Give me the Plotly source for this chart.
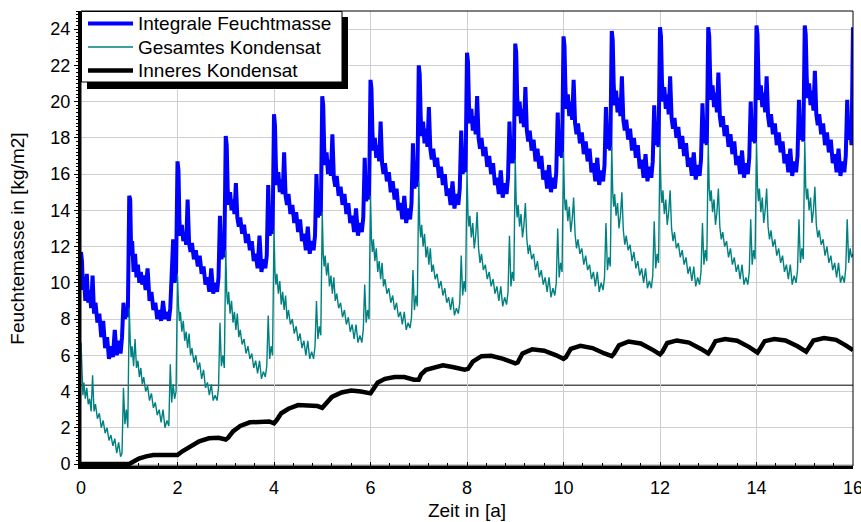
import plotly.graph_objects as go

# ---------------- data ----------------
# sample positions inside each year (fraction of a year)
FRAC = [0.00, 0.02, 0.04, 0.06, 0.09, 0.12, 0.15, 0.18, 0.21, 0.24,
        0.27, 0.30, 0.34, 0.38, 0.42, 0.46, 0.50, 0.54, 0.58, 0.62,
        0.66, 0.70, 0.74, 0.78, 0.82, 0.85, 0.88, 0.91, 0.94, 0.97]

# Integrale Feuchtmasse [kg/m2], one list per year
integrale_j00 = [11.7, 11.2, 9.6, 10.3, 9.0, 10.5, 8.9, 9.6, 8.6, 10.4, 8.3, 8.9, 7.8, 8.3, 7.0, 7.9, 6.4, 7.0, 5.8, 6.5, 5.9, 7.4, 6.0, 6.8, 6.1, 7.0, 8.9, 8.0, 8.6, 8.1]
integrale_j01 = [14.8, 14.6, 11.5, 12.3, 10.6, 11.6, 10.3, 11.0, 10.0, 10.6, 9.9, 10.4, 9.6, 10.8, 9.0, 9.5, 8.5, 8.9, 8.0, 8.5, 7.9, 9.0, 8.0, 8.4, 7.9, 8.6, 10.5, 12.4, 10.0, 10.6]
integrale_j02 = [16.7, 16.2, 13.4, 12.6, 13.2, 12.3, 12.8, 12.1, 14.6, 12.2, 11.7, 12.2, 11.3, 11.8, 10.9, 11.5, 10.5, 10.9, 9.9, 10.3, 9.5, 10.8, 9.4, 10.0, 9.5, 10.3, 13.7, 11.3, 11.9, 11.4]
integrale_j03 = [18.1, 17.6, 15.2, 14.3, 15.0, 14.0, 14.6, 13.8, 15.5, 13.6, 13.1, 13.6, 12.7, 13.2, 12.2, 12.7, 11.8, 12.3, 11.2, 11.6, 10.8, 12.6, 10.6, 11.3, 10.8, 11.5, 15.4, 12.6, 13.3, 12.7]
integrale_j04 = [19.3, 18.7, 16.4, 15.4, 16.1, 15.0, 15.7, 14.9, 17.2, 14.8, 14.3, 14.9, 13.8, 14.3, 13.3, 13.9, 12.8, 13.5, 12.3, 12.7, 11.8, 13.1, 11.6, 12.3, 11.8, 12.6, 16.0, 13.6, 14.4, 13.7]
integrale_j05 = [20.3, 19.8, 17.4, 16.5, 17.2, 16.0, 16.8, 15.9, 18.2, 15.8, 15.3, 15.9, 14.8, 15.3, 14.3, 14.9, 13.8, 14.4, 13.3, 13.7, 12.8, 14.1, 12.6, 13.3, 12.8, 13.6, 16.9, 14.5, 15.3, 14.6]
integrale_j06 = [21.2, 20.7, 18.3, 17.3, 18.0, 16.9, 17.6, 16.7, 18.9, 16.6, 16.0, 16.6, 15.6, 16.1, 15.0, 15.6, 14.6, 15.2, 14.0, 14.4, 13.5, 14.8, 13.3, 14.1, 13.5, 14.4, 17.7, 15.2, 16.0, 15.3]
integrale_j07 = [22.0, 21.5, 19.2, 18.1, 18.9, 17.7, 18.5, 17.5, 19.7, 17.4, 16.8, 17.4, 16.4, 16.9, 15.8, 16.4, 15.4, 16.0, 14.8, 15.2, 14.3, 15.6, 14.1, 14.9, 14.3, 15.2, 18.4, 16.0, 16.8, 16.1]
integrale_j08 = [22.7, 22.2, 19.9, 18.8, 19.6, 18.4, 19.2, 18.2, 20.3, 18.0, 17.4, 18.0, 17.0, 17.5, 16.4, 17.0, 16.0, 16.6, 15.4, 15.8, 14.9, 16.2, 14.7, 15.5, 14.9, 15.8, 18.9, 16.6, 17.3, 16.6]
integrale_j09 = [23.2, 22.7, 20.3, 19.2, 20.0, 18.8, 19.6, 18.6, 20.8, 18.4, 17.8, 18.4, 17.3, 17.9, 16.7, 17.4, 16.3, 17.0, 15.7, 16.2, 15.2, 16.5, 15.0, 15.8, 15.2, 16.1, 19.4, 17.0, 17.6, 16.9]
integrale_j10 = [23.6, 23.1, 20.7, 19.6, 20.4, 19.2, 20.0, 19.0, 21.2, 18.8, 18.2, 18.8, 17.7, 18.3, 17.1, 17.8, 16.7, 17.4, 16.1, 16.6, 15.6, 16.9, 15.4, 16.2, 15.6, 16.5, 19.7, 17.4, 18.0, 17.3]
integrale_j11 = [23.9, 23.4, 21.0, 19.8, 20.6, 19.4, 20.2, 19.2, 21.4, 19.0, 18.4, 19.0, 17.9, 18.5, 17.3, 18.0, 16.9, 17.6, 16.3, 16.8, 15.8, 17.1, 15.6, 16.4, 15.8, 16.7, 19.8, 17.6, 18.2, 17.5]
integrale_j12 = [24.1, 23.6, 21.2, 20.0, 20.8, 19.6, 20.4, 19.3, 21.4, 19.1, 18.5, 19.1, 18.0, 18.6, 17.4, 18.1, 17.0, 17.7, 16.4, 16.9, 15.9, 17.2, 15.7, 16.5, 15.9, 16.8, 19.9, 17.7, 18.4, 17.6]
integrale_j13 = [24.1, 23.6, 21.3, 20.1, 20.9, 19.7, 20.5, 19.4, 21.6, 19.2, 18.6, 19.2, 18.1, 18.7, 17.5, 18.2, 17.1, 17.8, 16.5, 17.0, 16.0, 17.3, 15.8, 16.6, 16.0, 16.9, 20.0, 17.8, 18.5, 17.7]
integrale_j14 = [24.2, 23.7, 21.3, 20.1, 20.9, 19.7, 20.5, 19.4, 21.4, 19.2, 18.6, 19.3, 18.2, 18.8, 17.6, 18.3, 17.2, 17.8, 16.6, 17.1, 16.1, 17.4, 15.9, 16.7, 16.1, 17.0, 20.1, 17.9, 18.6, 17.8]
integrale_j15 = [24.2, 23.7, 21.4, 20.2, 21.0, 19.8, 20.6, 19.5, 21.7, 19.3, 18.7, 19.3, 18.2, 18.8, 17.6, 18.3, 17.2, 17.9, 16.6, 17.1, 16.1, 17.4, 15.9, 16.7, 16.1, 17.0, 20.1, 17.9, 18.6, 17.6]
integrale_end = 24.1

# Gesamtes Kondensat [kg/m2], one list per year
gesamt_j00 = [6.7, 4.8, 3.8, 4.5, 3.6, 4.2, 3.3, 3.6, 2.9, 4.9, 2.9, 3.3, 2.5, 2.8, 2.0, 2.4, 1.7, 2.0, 1.3, 1.6, 1.0, 1.4, 0.6, 1.2, 0.4, 0.6, 4.2, 2.2, 3.0, 2.0]
gesamt_j01 = [8.6, 6.8, 5.9, 6.5, 5.4, 6.9, 5.3, 5.7, 4.8, 5.3, 4.4, 4.8, 4.0, 4.3, 3.5, 3.9, 3.1, 3.4, 2.7, 3.0, 2.3, 3.0, 2.0, 2.4, 2.1, 5.5, 3.4, 4.4, 3.6, 4.0]
gesamt_j02 = [10.4, 8.8, 7.9, 8.4, 7.3, 7.9, 6.8, 7.3, 6.4, 7.2, 6.0, 6.4, 5.6, 6.0, 5.2, 5.6, 4.7, 5.2, 4.2, 4.5, 3.8, 4.4, 3.5, 3.8, 3.5, 4.2, 7.8, 5.4, 6.0, 5.3]
gesamt_j03 = [11.8, 9.5, 8.8, 9.5, 8.3, 9.0, 7.8, 8.4, 7.4, 8.3, 7.0, 7.4, 6.6, 6.9, 6.1, 6.5, 5.8, 6.1, 5.3, 5.7, 5.0, 5.7, 4.7, 5.1, 4.8, 5.4, 8.2, 5.8, 6.5, 6.0]
gesamt_j04 = [12.9, 10.6, 9.9, 10.5, 9.4, 10.1, 8.8, 9.5, 8.5, 9.3, 8.0, 8.5, 7.7, 8.0, 7.2, 7.6, 6.8, 7.2, 6.4, 6.8, 6.0, 6.8, 5.8, 6.2, 5.8, 6.5, 9.0, 6.9, 7.6, 7.1]
gesamt_j05 = [13.9, 11.6, 10.9, 11.5, 10.4, 11.1, 9.8, 10.4, 9.4, 10.3, 9.0, 9.4, 8.6, 8.9, 8.1, 8.5, 7.7, 8.1, 7.3, 7.7, 6.9, 7.7, 6.7, 7.1, 6.7, 7.4, 9.9, 7.8, 8.5, 8.0]
gesamt_j06 = [14.8, 12.4, 11.7, 12.4, 11.2, 11.9, 10.6, 11.2, 10.2, 11.1, 9.8, 10.2, 9.4, 9.7, 8.9, 9.3, 8.5, 8.9, 8.1, 8.4, 7.7, 8.4, 7.4, 7.8, 7.5, 8.1, 10.7, 8.5, 9.3, 8.7]
gesamt_j07 = [15.6, 13.2, 12.5, 13.2, 12.0, 12.7, 11.4, 12.0, 11.0, 11.9, 10.6, 11.0, 10.2, 10.5, 9.7, 10.1, 9.3, 9.7, 8.9, 9.2, 8.5, 9.2, 8.2, 8.6, 8.3, 8.9, 11.5, 9.3, 10.1, 9.5]
gesamt_j08 = [16.2, 13.8, 13.1, 13.7, 12.5, 13.3, 11.9, 12.6, 13.9, 11.9, 11.1, 11.6, 10.7, 11.0, 10.2, 10.6, 9.8, 10.2, 9.4, 9.8, 9.0, 9.8, 8.7, 9.2, 8.8, 9.5, 12.6, 9.8, 10.6, 10.1]
gesamt_j09 = [16.8, 14.4, 13.6, 14.3, 13.1, 13.8, 12.5, 13.2, 14.4, 12.4, 11.6, 12.1, 11.3, 11.6, 10.7, 11.2, 10.3, 10.7, 9.9, 10.3, 9.5, 10.3, 9.2, 9.7, 9.3, 10.0, 13.0, 10.3, 11.1, 10.6]
gesamt_j10 = [17.2, 14.7, 14.0, 14.6, 13.4, 14.2, 12.8, 13.5, 14.7, 12.7, 11.9, 12.4, 11.6, 11.9, 11.0, 11.5, 10.7, 11.0, 10.2, 10.6, 9.8, 10.6, 9.5, 10.0, 9.6, 10.3, 13.3, 10.7, 11.4, 10.9]
gesamt_j11 = [17.5, 15.0, 14.2, 14.9, 13.7, 14.4, 13.0, 13.7, 15.0, 12.9, 12.1, 12.6, 11.8, 12.1, 11.2, 11.7, 10.8, 11.2, 10.4, 10.8, 10.0, 10.8, 9.7, 10.1, 9.7, 10.4, 13.4, 10.8, 11.6, 11.1]
gesamt_j12 = [17.6, 15.2, 14.4, 15.1, 13.8, 14.6, 13.2, 13.9, 15.1, 13.0, 12.3, 12.8, 11.9, 12.2, 11.4, 11.8, 11.0, 11.4, 10.5, 10.9, 10.1, 10.9, 9.8, 10.3, 9.9, 10.6, 13.3, 11.0, 11.8, 11.2]
gesamt_j13 = [17.7, 15.2, 14.5, 15.1, 13.9, 14.6, 13.2, 13.9, 15.2, 13.1, 12.4, 12.8, 12.0, 12.3, 11.4, 11.9, 11.0, 11.4, 10.6, 11.0, 10.2, 11.0, 9.9, 10.3, 9.9, 10.6, 13.5, 11.0, 11.8, 11.3]
gesamt_j14 = [17.8, 15.3, 14.5, 15.2, 13.9, 14.7, 13.3, 14.0, 15.2, 13.1, 12.4, 12.9, 12.0, 12.4, 11.5, 11.9, 11.1, 11.5, 10.6, 11.0, 10.2, 11.0, 9.9, 10.4, 10.0, 10.7, 13.5, 11.1, 11.9, 11.3]
gesamt_j15 = [17.8, 15.3, 14.6, 15.2, 14.0, 14.7, 13.3, 14.0, 15.3, 13.2, 12.5, 12.9, 12.1, 12.4, 11.5, 12.0, 11.1, 11.5, 10.7, 11.1, 10.3, 11.1, 10.0, 10.4, 10.0, 10.8, 13.5, 11.1, 11.9, 11.4]
gesamt_end = 11.6

# Inneres Kondensat [kg/m2]
inneres_x = [0, 1.0, 1.1, 1.2, 1.35, 1.5, 1.8, 2.0, 2.1, 2.25, 2.45, 2.65, 2.85, 3.0, 3.05, 3.15, 3.3, 3.5, 3.7, 3.9,
             4.0, 4.05, 4.15, 4.3, 4.5, 4.7, 4.9, 5.0, 5.05, 5.2, 5.4, 5.6, 5.8, 6.0, 6.05, 6.15, 6.3, 6.5, 6.7, 6.9,
             7.0, 7.05, 7.15, 7.35, 7.5, 7.7, 7.95, 8.02, 8.12, 8.3, 8.5, 8.75, 9.0, 9.05, 9.15, 9.35, 9.6, 9.85,
             10.0, 10.05, 10.15, 10.35, 10.6, 10.85, 11.0, 11.05, 11.15, 11.35, 11.6, 11.85, 12.0, 12.05, 12.15,
             12.35, 12.6, 12.85, 13.0, 13.05, 13.15, 13.35, 13.6, 13.85, 14.02, 14.07, 14.17, 14.37, 14.6, 14.85,
             15.03, 15.08, 15.18, 15.4, 15.65, 15.85, 16.0]
inneres_y = [0, 0, 0.15, 0.3, 0.42, 0.5, 0.5, 0.5, 0.7, 0.95, 1.25, 1.42, 1.45, 1.35, 1.45, 1.8, 2.1, 2.3, 2.35, 2.35,
             2.25, 2.4, 2.8, 3.05, 3.25, 3.25, 3.2, 3.1, 3.25, 3.7, 3.95, 4.05, 4.0, 3.9, 4.1, 4.5, 4.7, 4.8, 4.8, 4.65,
             4.65, 4.95, 5.2, 5.35, 5.45, 5.35, 5.2, 5.25, 5.65, 5.95, 5.97, 5.8, 5.55, 5.6, 6.1, 6.33, 6.25, 6.0,
             5.8, 5.9, 6.35, 6.52, 6.4, 6.1, 5.95, 6.1, 6.55, 6.76, 6.65, 6.3, 6.05, 6.2, 6.68,
             6.82, 6.7, 6.35, 6.1, 6.3, 6.78, 6.9, 6.8, 6.45, 6.15, 6.35, 6.78, 6.9, 6.82, 6.5,
             6.2, 6.4, 6.82, 6.95, 6.85, 6.55, 6.28]

REF_LEVEL = 4.35          # thin horizontal reference line
X_TICKS = [0, 2, 4, 6, 8, 10, 12, 14, 16]
Y_TICKS = [0, 2, 4, 6, 8, 10, 12, 14, 16, 18, 20, 22, 24]
SERIES_NAMES = ["Integrale Feuchtmasse", "Gesamtes Kondensat", "Inneres Kondensat"]
SERIES_COLORS = ["#0000ff", "#008080", "#000000"]
SERIES_WIDTHS = [4, 1.4, 4.5]

integrale_years = [integrale_j00, integrale_j01, integrale_j02, integrale_j03, integrale_j04, integrale_j05,
                   integrale_j06, integrale_j07, integrale_j08, integrale_j09, integrale_j10, integrale_j11,
                   integrale_j12, integrale_j13, integrale_j14, integrale_j15]
gesamt_years = [gesamt_j00, gesamt_j01, gesamt_j02, gesamt_j03, gesamt_j04, gesamt_j05, gesamt_j06, gesamt_j07,
                gesamt_j08, gesamt_j09, gesamt_j10, gesamt_j11, gesamt_j12, gesamt_j13, gesamt_j14, gesamt_j15]


def flatten(years, end_value):
    xs, ys = [], []
    for k, vals in enumerate(years):
        assert len(vals) == len(FRAC), (k, len(vals))
        for f, v in zip(FRAC, vals):
            xs.append(k + f)
            ys.append(v)
    xs.append(float(len(years)))
    ys.append(end_value)
    return xs, ys


assert len(inneres_x) == len(inneres_y)
ix, iy = flatten(integrale_years, integrale_end)
gx, gy = flatten(gesamt_years, gesamt_end)

FONT = "Liberation Sans, Arial, sans-serif"

# figure fills the whole 861x522 window (body margin removed in post_script)
W, H = 861, 522
ML, MR, MT, MB = 81, 8, 11, 56
PW, PH = W - ML - MR, H - MT - MB


def px(xs):   # screen x -> paper x
    return (xs - ML) / PW


def py(ys):   # screen y -> paper y
    return (H - MB - ys) / PH


fig = go.Figure()
fig.add_trace(go.Scatter(x=ix, y=iy, mode="lines", name=SERIES_NAMES[0],
                         line=dict(color=SERIES_COLORS[0], width=SERIES_WIDTHS[0])))
fig.add_trace(go.Scatter(x=gx, y=gy, mode="lines", name=SERIES_NAMES[1],
                         line=dict(color=SERIES_COLORS[1], width=SERIES_WIDTHS[1])))
fig.add_trace(go.Scatter(x=inneres_x, y=inneres_y, mode="lines", name=SERIES_NAMES[2],
                         line=dict(color=SERIES_COLORS[2], width=SERIES_WIDTHS[2])))

fig.add_hline(y=REF_LEVEL, line=dict(color="black", width=1), layer="below")

# thin frame (top / right)
fig.add_shape(type="rect", xref="paper", yref="paper", x0=0, x1=1, y0=0, y1=1,
              line=dict(color="black", width=1), layer="above")

# legend: shadow, box, samples, labels
fig.add_shape(type="rect", xref="paper", yref="paper",
              x0=px(87), x1=px(348), y0=py(89), y1=py(17),
              line=dict(width=0), fillcolor="black", layer="above")
fig.add_shape(type="rect", xref="paper", yref="paper",
              x0=px(81.5), x1=px(342), y0=py(82), y1=py(11.5),
              line=dict(width=1, color="black"), fillcolor="white", layer="above")
row_y = [23.5, 47, 70.5]
for name, col, wid, ry in zip(SERIES_NAMES, SERIES_COLORS, SERIES_WIDTHS, row_y):
    fig.add_shape(type="line", xref="paper", yref="paper",
                  x0=px(88), x1=px(133), y0=py(ry), y1=py(ry),
                  line=dict(color=col, width=wid), layer="above")
    fig.add_annotation(xref="paper", yref="paper", x=px(136), y=py(ry),
                       xanchor="left", yanchor="middle", showarrow=False,
                       text=name, font=dict(size=19, family=FONT, color="black"))

fig.update_layout(
    width=W, height=H,
    margin=dict(l=ML, r=MR, t=MT, b=MB, autoexpand=False),
    plot_bgcolor="white", paper_bgcolor="white",
    font=dict(family=FONT, size=18, color="black"),
    showlegend=False,
)
fig.update_xaxes(
    range=[0, 16], tickvals=X_TICKS, showgrid=True, gridcolor="#cfcfcf", gridwidth=1,
    showline=True, linecolor="black", linewidth=3, zeroline=False, automargin=False,
    ticks="inside", ticklen=4, tickcolor="black", ticklabelstandoff=3, ticklabeloverflow="allow",
    minor=dict(dtick=0.4, tick0=0, ticks="inside", ticklen=3, tickcolor="black", showgrid=False),
    title=dict(text="Zeit in [a]", font=dict(size=19), standoff=8),
)
fig.update_yaxes(
    range=[-0.11, 25], tickvals=Y_TICKS, showgrid=True, gridcolor="#cfcfcf", gridwidth=1,
    showline=True, linecolor="black", linewidth=3, zeroline=False, automargin=False,
    ticks="outside", ticklen=4, tickcolor="black",
    minor=dict(dtick=0.2, tick0=0, ticks="outside", ticklen=2, tickcolor="black", showgrid=False),
    title=dict(text="Feuchtemasse in [kg/m2]", font=dict(size=19), standoff=21),
)

fig.write_html("out.html", config={"displayModeBar": False},
               post_script="document.body.style.margin='0';document.body.style.overflow='hidden';")
